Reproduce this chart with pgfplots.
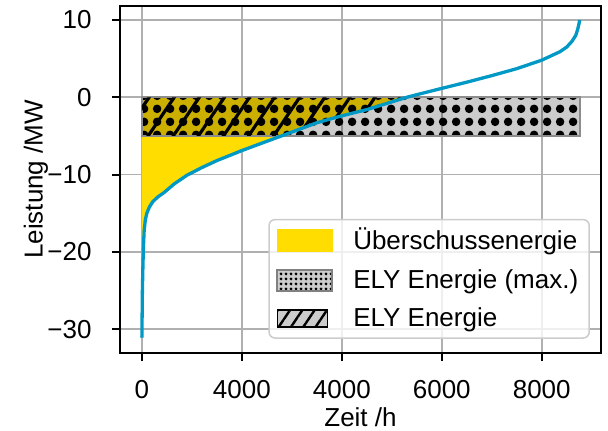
\documentclass[border=0pt]{standalone}
\usepackage{fontspec}
\setmainfont{Liberation Sans}
\usepackage{pgfplots}
\pgfplotsset{compat=1.18}
\usetikzlibrary{patterns,patterns.meta}
\definecolor{ylw}{RGB}{255,221,0}
\definecolor{crv}{RGB}{0,152,196}
\definecolor{grd}{RGB}{176,176,176}
\newcommand{\fs}{\fontsize{13}{15.6}\selectfont}
\pgfdeclarepatternformonly{bigdots}{\pgfqpoint{0pt}{0pt}}{\pgfqpoint{6.3pt}{6.3pt}}{\pgfqpoint{6.3pt}{6.3pt}}{\pgfpathcircle{\pgfqpoint{3.15pt}{3.15pt}}{2.2pt}\pgfusepath{fill}}
\pgfdeclarepatternformonly{smalldots}{\pgfqpoint{0pt}{0pt}}{\pgfqpoint{2.25pt}{2.25pt}}{\pgfqpoint{2.25pt}{2.25pt}}{\pgfpathcircle{\pgfqpoint{1.125pt}{1.125pt}}{0.85pt}\pgfusepath{fill}}
\begin{document}
\begin{tikzpicture}
\useasboundingbox (0,0) rectangle (304pt,215pt);
\begin{axis}[
  at={(60pt,38.5pt)}, anchor=south west,
  width=240.5pt, height=173.65pt, scale only axis,
  xmin=-438, xmax=9186, ymin=-33.1, ymax=11.85,
  xtick={0,2000,4000,6000,8000},
  xticklabels={0,4000,4000,6000,8000},
  ytick={-30,-20,-10,0,10},
  yticklabels={−30,−20,−10,0,10},
  xtick pos=bottom, ytick pos=left,
  tick align=outside, major tick length=4pt,
  every tick/.style={black, line width=1pt},
  axis line style={line width=1pt},
  grid=major, grid style={grd, line width=0.8pt},
  tick label style={font=\fs},
  label style={font=\fs},
  xticklabel style={anchor=base, yshift=-18.6pt},
  yticklabel style={anchor=east, xshift=-6.7pt},
  xlabel={Zeit /h}, ylabel={Leistung /MW},
  xlabel style={at={(axis description cs:0.5,0)}, anchor=base, yshift=-36.9pt},
  ylabel style={at={(axis description cs:0,0.5)}, anchor=center, yshift=42.1pt},
  legend style={at={(0.977,0.041)}, anchor=south east, font=\fs,
    draw=black!20, line width=0.75pt, rounded corners=3pt, fill=white,
    fill opacity=0.8, text opacity=1, inner xsep=3.5pt, inner ysep=2.3pt,
    row sep=4.2pt, nodes={inner sep=2pt}},
  legend cell align=left,
  legend style={/tikz/every odd column/.append style={column sep=8pt}},
]
% curve data
\pgfplotstableread{
x y
0 -31.1
5 -28
10 -25
20 -22
30 -19.5
45 -17.3
70 -15.8
100 -15.0
150 -14.2
220 -13.5
320 -12.9
450 -12.3
650 -11.2
900 -10.1
1200 -9.1
1500 -8.2
2000 -6.9
2500 -5.7
2900 -4.75
3500 -3.3
4000 -2.4
4500 -1.6
5000 -0.6
5300 0
5600 0.5
6000 1.15
6500 1.95
7000 2.8
7500 3.7
8000 4.8
8200 5.4
8366 5.9
8500 6.5
8600 7.2
8680 8.0
8720 8.8
8745 9.5
8760 10
}\curve
% yellow area
\addplot[fill=ylw, draw=none, forget plot] coordinates {
(0,-31.1) (5,-28) (10,-25) (20,-22) (30,-19.5) (45,-17.3) (70,-15.8) (100,-15.0)
(150,-14.2) (220,-13.5) (320,-12.9) (450,-12.3) (650,-11.2) (900,-10.1) (1200,-9.1)
(1500,-8.2) (2000,-6.9) (2500,-5.7) (2900,-4.75) (3500,-3.3) (4000,-2.4) (4500,-1.6)
(5000,-0.6) (5300,0) (0,0)} -- cycle;
% bar max
\addplot[fill=black, fill opacity=0.2, draw=none, forget plot] coordinates {(0,-5) (8760,-5) (8760,0) (0,0)} -- cycle;
\addplot[draw=none, pattern=bigdots, pattern color=black, forget plot] coordinates {(0,-5) (8760,-5) (8760,0) (0,0)} -- cycle;
\addplot[draw=black!45, line width=1pt, forget plot] coordinates {(0,-5) (8760,-5) (8760,0) (0,0)} -- cycle;
% ELY hatch
\addplot[draw=none, pattern={Lines[angle=56, distance=10.4pt, line width=1.6pt]}, pattern color=black, forget plot] coordinates {
(0,0) (0,-5) (2830,-5) (2900,-4.75) (3500,-3.3) (4000,-2.4) (4500,-1.6) (5000,-0.6) (5300,0)} -- cycle;
% curve
\addplot[crv, line width=1.65pt, forget plot] table[x=x,y=y] {\curve};
% legend
\addlegendimage{legend image code/.code={\fill[ylw, fill opacity=1, sharp corners] (0pt,-5.25pt) rectangle (27.5pt,5.25pt);}}
\addlegendentry{Überschussenergie}
\addlegendimage{legend image code/.code={\fill[black!20, fill opacity=1, sharp corners] (0pt,-5.25pt) rectangle (27.5pt,5.25pt);
  \fill[pattern=smalldots, pattern color=black, fill opacity=1, sharp corners] (0pt,-5.25pt) rectangle (27.5pt,5.25pt);
  \draw[black!50, line width=1pt, draw opacity=1, sharp corners] (0pt,-5.25pt) rectangle (27.5pt,5.25pt);}}
\addlegendentry{ELY Energie (max.)}
\addlegendimage{legend image code/.code={\fill[black!20, fill opacity=1, sharp corners] (0pt,-4.2pt) rectangle (25pt,4.2pt);
  \fill[pattern={Lines[angle=56, distance=5.1pt, line width=1.2pt]}, pattern color=black, fill opacity=1, sharp corners] (0pt,-4.2pt) rectangle (25pt,4.2pt);}}
\addlegendentry{ELY Energie}
\end{axis}
\end{tikzpicture}
\end{document}
